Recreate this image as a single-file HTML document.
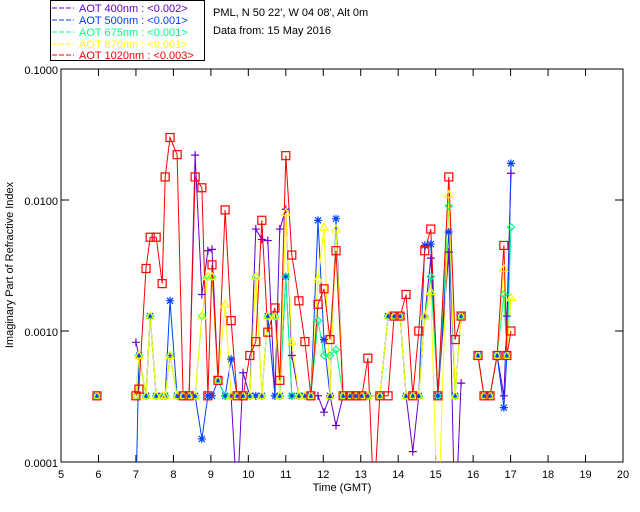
<!DOCTYPE html>
<html><head><meta charset="utf-8"><style>
html,body{margin:0;padding:0;background:#fff;}
svg{display:block;font-family:"Liberation Sans",sans-serif;font-size:11px;}
</style></head><body>
<svg id="chart" width="640" height="512">
<rect x="0" y="0" width="640" height="512" fill="#fff"/>
<g>
<rect x="50.5" y="0.5" width="154" height="60" fill="#fff" stroke="#000"/>
<g><line x1="52" y1="8" x2="74" y2="8" stroke="#6a00c8" stroke-dasharray="5,2"/><text x="79" y="12" fill="#6a00c8">AOT  400nm : &lt;0.002&gt;</text></g>
<g><line x1="52" y1="20" x2="74" y2="20" stroke="#0040ff" stroke-dasharray="5,2"/><text x="79" y="24" fill="#0040ff">AOT  500nm : &lt;0.001&gt;</text></g>
<g><line x1="52" y1="32" x2="74" y2="32" stroke="#00ff80" stroke-dasharray="5,2"/><text x="79" y="36" fill="#00ff80">AOT  675nm : &lt;0.001&gt;</text></g>
<g><line x1="52" y1="44" x2="74" y2="44" stroke="#ffff00" stroke-dasharray="5,2"/><text x="79" y="48" fill="#ffff00">AOT  870nm : &lt;0.001&gt;</text></g>
<g><line x1="52" y1="55" x2="74" y2="55" stroke="#ff0000" stroke-dasharray="5,2"/><text x="79" y="59" fill="#ff0000">AOT 1020nm : &lt;0.003&gt;</text></g>
</g>
<text x="213" y="16">PML, N 50 22', W 04 08', Alt 0m</text>
<text x="213" y="34">Data from: 15 May 2016</text>
<text transform="translate(13,265) rotate(-90)" text-anchor="middle">Imaginary Part of Refractive Index</text>
<text x="342" y="491" text-anchor="middle">Time (GMT)</text>
<g id="axes"></g>
<defs><clipPath id="clip"><rect x="61" y="69" width="562" height="393"/></clipPath></defs>
<g id="plot" clip-path="url(#clip)"></g>
<g id="marks"></g>
</svg>
<script>
const times=[5.96,7.0,7.08,7.27,7.38,7.54,7.70,7.78,7.91,8.10,8.26,8.42,8.58,8.76,8.92,9.03,9.19,9.38,9.54,9.70,9.86,10.04,10.20,10.36,10.52,10.71,10.84,11.0,11.16,11.35,11.51,11.67,11.86,12.02,12.18,12.34,12.53,12.71,12.87,13.03,13.19,13.35,13.51,13.73,13.89,14.05,14.21,14.39,14.55,14.71,14.87,15.06,15.35,15.52,15.68,16.13,16.29,16.45,16.64,16.82,16.90,17.01];
const red=[.00032,.00032,.00036,.0030,.0052,.0052,.0023,.015,.030,.0222,.00032,.00032,.015,.0124,.00032,.0032,.00042,.0084,.0012,.00032,.00032,.00065,.00083,.0070,.00098,.0015,.00042,.0218,.0038,.0017,.00083,.00032,.0016,.0021,.00086,.0041,.00032,.00032,.00032,.00032,.00062,.00005,.00032,.00032,.0013,.0013,.0019,.00032,.0010,.0041,.0060,.00032,.0150,.00086,.0013,.00065,.00032,.00032,.00065,.0045,.00065,.0010];
const purple=[.00032,.00082,.00065,.00032,.0013,.00032,.00032,.00032,.00065,.00032,.00032,.00032,.022,.0019,.0041,.0042,.00042,.00032,.00032,.00005,.00048,.00032,.0060,.0050,.0049,.00032,.0060,.0085,.00065,.00032,.00032,.00032,.00032,.00024,.00032,.00019,.00032,.00032,.00032,.00032,.00032,null,.00032,.0013,.0013,.0013,.00032,.00012,.00032,.0013,.0036,.00032,.0040,.00003,.00040,.00065,.00032,.00032,.00065,.00032,.0013,.016];
const blue=[.00032,.00005,.00065,.00032,.0013,.00032,.00032,.00032,.0017,.00032,.00032,.00032,.00032,.00015,.00032,.00032,.00042,.00032,.00061,.00032,.00032,.00032,.00032,.00032,.0013,.00032,.00032,.0026,.00032,.00032,.00032,.00032,.0070,.00086,.00032,.0072,.00032,.00032,.00032,.00032,.00032,null,.00032,.0013,.0013,.0013,.00032,.00032,.00032,.0045,.0046,.00032,.0057,.00032,.0013,.00065,.00032,.00032,.00065,.00026,.00065,.019];
const green=[.00032,.00032,.00065,.00032,.0013,.00032,.00032,.00032,.00065,.00032,.00032,.00032,.00032,.0013,.0026,.0026,.00042,.00032,.00032,.00032,.00032,.00032,.0026,.00032,.0013,.0013,.00032,.0026,.00032,.00032,.00032,.00032,.0012,.00065,.00065,.00072,.00032,.00032,.00032,.00032,.00032,null,.00032,.0013,.0013,.0013,.00032,.00032,.00032,.0013,.0026,.00032,.0090,.00032,.0013,.00065,.00032,.00032,.00065,.0019,.00065,.0062];
const yellow=[.00032,.00032,.00065,.00032,.0013,.00032,.00032,.00032,.00065,.00032,.00032,.00032,.00032,.0013,.0026,.0026,.00042,.0016,.00032,.00032,.00032,.00032,.0026,.00032,.0013,.0013,.00032,.0080,.00083,.00032,.00032,.00032,.0025,.0062,.00032,.0060,.00032,.00032,.00032,.00032,.00032,null,.00032,.0013,.0013,.0013,.00032,.00032,.00032,.0013,.0020,.00003,.0110,.00032,.0013,.00065,.00032,.00032,.00065,.0030,.00065,.0018];
const xTicks=[5,6,7,8,9,10,11,12,13,14,15,16,17,18,19,20];
const yTicks=[0.0001,0.001,0.01,0.1];
const yTickLabels=["0.0001","0.0010","0.0100","0.1000"];

const L=61,R=623,T=69,B=462;
const xs=t=>L+(t-5)/15*(R-L);
const ys=v=>B-(Math.log10(v)+4)/3*(B-T);
const NS="http://www.w3.org/2000/svg";
function mk(tag,attrs,parent){const e=document.createElementNS(NS,tag);for(const k in attrs)e.setAttribute(k,attrs[k]);parent.appendChild(e);return e;}
const axes=document.getElementById('axes'),plot=document.getElementById('plot'),marks=document.getElementById('marks');
const frame=mk('rect',{x:L,y:T,width:R-L,height:B-T,fill:'none',stroke:'#000'},axes);


xTicks.forEach(t=>{
  const x=xs(t);
  mk('line',{x1:x,y1:B,x2:x,y2:B-7,stroke:'#000'},axes);
  mk('line',{x1:x,y1:T,x2:x,y2:T+7,stroke:'#000'},axes);
  const tx=mk('text',{x:x,y:B+16,'text-anchor':'middle'},axes);
  tx.textContent=t;
  
  
});
yTicks.forEach((v,i)=>{
  const y=ys(v);
  mk('line',{x1:L,y1:y,x2:L+8,y2:y,stroke:'#000'},axes);
  mk('line',{x1:R,y1:y,x2:R-8,y2:y,stroke:'#000'},axes);
  const tx=mk('text',{x:L-3,y:y+5,'text-anchor':'end'},axes);
  tx.textContent=yTickLabels[i];
  
  
});
const series=[
 {name:'aot-400',vals:purple,col:'#6a00c8',m:'plus'},
 {name:'aot-500',vals:blue,col:'#0040ff',m:'star'},
 {name:'aot-675',vals:green,col:'#00ff80',m:'diamond'},
 {name:'aot-870',vals:yellow,col:'#ffff00',m:'tri'},
 {name:'aot-1020',vals:red,col:'#ff0000',m:'square'}];
series.forEach(s=>{
  const pts=[];
  times.forEach((t,i)=>{if(s.vals[i]!=null)pts.push([xs(t),ys(s.vals[i]),t]);});
  let d='';
  pts.forEach((p,i)=>{d+=(i===0||p[2]-pts[i-1][2]>0.4?'M':'L')+p[0].toFixed(1)+','+p[1].toFixed(1);});
  const ln=mk('path',{d:d,fill:'none',stroke:s.col,'stroke-width':1},plot);
  
  
});
series.forEach(s=>{
  const g=mk('g',{stroke:s.col,fill:'none','stroke-width':1.2},marks);
  
  
  times.forEach((t,i)=>{
    const v=s.vals[i];if(v==null)return;
    const x=xs(t),y=ys(v);if(y<T||y>B)return;
    let e;
    if(s.m==='plus')e=mk('path',{d:`M${x-4},${y}h8M${x},${y-4}v8`},g);
    else if(s.m==='star')e=mk('path',{d:`M${x-4},${y}h8M${x},${y-4}v8M${x-3},${y-3}l6,6M${x-3},${y+3}l6,-6`},g);
    else if(s.m==='diamond')e=mk('path',{d:`M${x},${y-3.5}l3.5,3.5l-3.5,3.5l-3.5,-3.5z`},g);
    else if(s.m==='tri')e=mk('path',{d:`M${x},${y-4}l4,7h-8z`},g);
    else e=mk('rect',{x:x-4,y:y-4,width:8,height:8},g);
    
    
  });
});
</script>
</body></html>
